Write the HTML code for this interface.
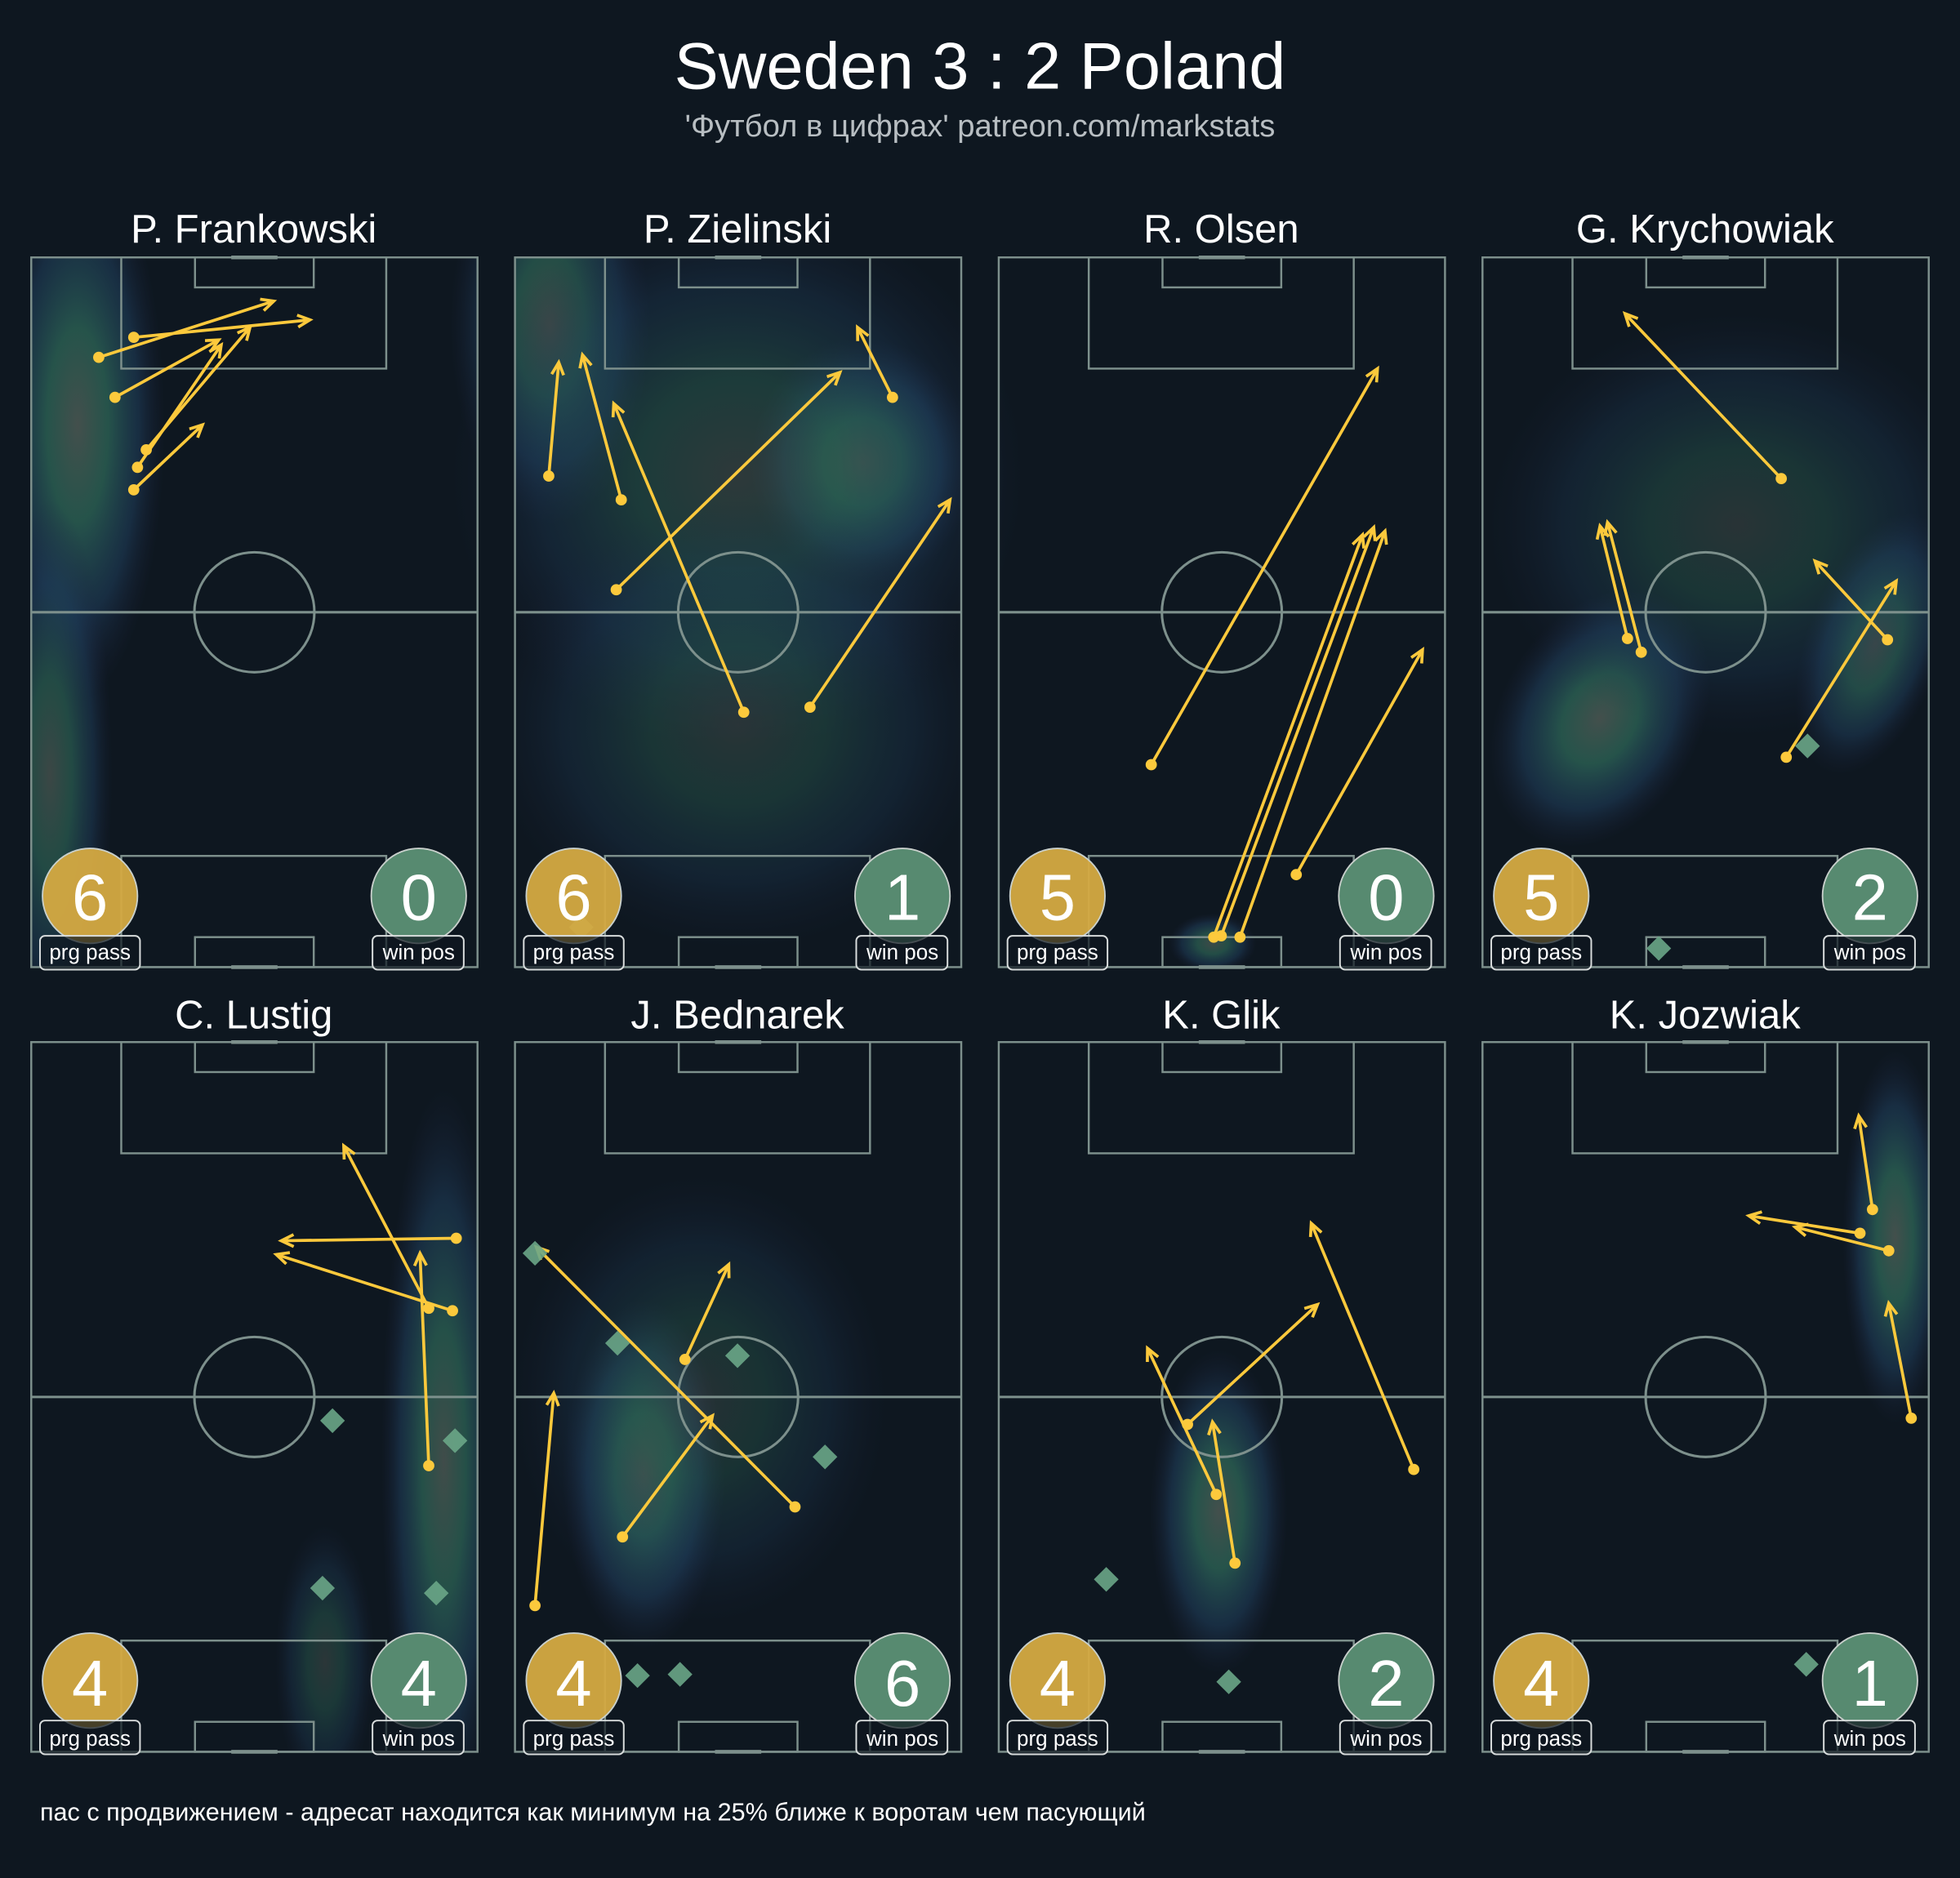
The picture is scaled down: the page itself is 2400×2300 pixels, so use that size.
<!DOCTYPE html>
<html><head><meta charset="utf-8"><style>
html,body{margin:0;padding:0;background:#0e1720;}
svg{display:block}
text{font-family:"Liberation Sans","DejaVu Sans",sans-serif;}
</style></head><body>
<svg id="s" width="2400" height="2300" viewBox="0 0 1568 1503" preserveAspectRatio="none" xmlns="http://www.w3.org/2000/svg">
<defs>
<radialGradient id="hm">
<stop offset="0" stop-color="#46524e" stop-opacity="0.95"/>
<stop offset="0.35" stop-color="#2a5e52" stop-opacity="0.85"/>
<stop offset="0.7" stop-color="#20405e" stop-opacity="0.55"/>
<stop offset="1" stop-color="#1c2340" stop-opacity="0"/>
</radialGradient>
<clipPath id="pc"><rect x="25" y="206" width="357" height="568"/><rect x="412" y="206" width="357" height="568"/><rect x="799" y="206" width="357" height="568"/><rect x="1186" y="206" width="357" height="568"/>
<rect x="25" y="834" width="357" height="568"/><rect x="412" y="834" width="357" height="568"/><rect x="799" y="834" width="357" height="568"/><rect x="1186" y="834" width="357" height="568"/></clipPath>
</defs>
<rect width="1568" height="1503" fill="#0e1720"/>
<g id="heat" clip-path="url(#pc)"></g>
<g id="pitches"></g>
<g id="arrows"></g>
<g id="badges"></g>
<text x="784" y="71" font-size="53" fill="#fff" text-anchor="middle">Sweden 3 : 2 Poland</text>
<text x="784" y="109" font-size="25" fill="#b8bec2" text-anchor="middle">'Футбол в цифрах' patreon.com/markstats</text>
<g font-size="32" fill="#fff" text-anchor="middle">
<text x="203" y="194">P. Frankowski</text>
<text x="590" y="194">P. Zielinski</text>
<text x="977" y="194">R. Olsen</text>
<text x="1364" y="194">G. Krychowiak</text>
<text x="203" y="823">C. Lustig</text>
<text x="590" y="823">J. Bednarek</text>
<text x="977" y="823">K. Glik</text>
<text x="1364" y="823">K. Jozwiak</text>
</g>
<g font-size="52" fill="#fff" text-anchor="middle">
<text x="72" y="736">6</text><text x="335" y="736">0</text>
<text x="459" y="736">6</text><text x="722" y="736">1</text>
<text x="846" y="736">5</text><text x="1109" y="736">0</text>
<text x="1233" y="736">5</text><text x="1496" y="736">2</text>
<text x="72" y="1365">4</text><text x="335" y="1365">4</text>
<text x="459" y="1365">4</text><text x="722" y="1365">6</text>
<text x="846" y="1365">4</text><text x="1109" y="1365">2</text>
<text x="1233" y="1365">4</text><text x="1496" y="1365">1</text>
</g>
<g id="lbl" font-size="17" fill="#fff" text-anchor="middle">
<text x="72" y="768">prg pass</text><text x="335" y="768">win pos</text>
<text x="459" y="768">prg pass</text><text x="722" y="768">win pos</text>
<text x="846" y="768">prg pass</text><text x="1109" y="768">win pos</text>
<text x="1233" y="768">prg pass</text><text x="1496" y="768">win pos</text>
<text x="72" y="1397">prg pass</text><text x="335" y="1397">win pos</text>
<text x="459" y="1397">prg pass</text><text x="722" y="1397">win pos</text>
<text x="846" y="1397">prg pass</text><text x="1109" y="1397">win pos</text>
<text x="1233" y="1397">prg pass</text><text x="1496" y="1397">win pos</text>
</g>
<text x="32" y="1457" font-size="20" fill="#fff">пас с продвижением - адресат находится как минимум на 25% ближе к воротам чем пасующий</text>
</svg>
<script>
const NS="http://www.w3.org/2000/svg";
function el(p,t,a){const e=document.createElementNS(NS,t);for(const k in a)e.setAttribute(k,a[k]);p.appendChild(e);return e;}
const cols=[25,412,799,1186],rows=[206,834],W=357,H=568;
const P=document.getElementById('pitches'),A=document.getElementById('arrows'),B=document.getElementById('badges'),Hm=document.getElementById('heat');
const lc="#7d908c";
rows.forEach(y=>cols.forEach(x=>{
 const g=el(P,'g',{fill:'none',stroke:lc,'stroke-width':1.6});
 el(g,'rect',{x:x,y:y,width:W,height:H});
 el(g,'line',{x1:x,y1:y+H/2,x2:x+W,y2:y+H/2,'stroke-width':2});
 el(g,'circle',{cx:x+W/2,cy:y+H/2,r:48,'stroke-width':2});
 el(g,'rect',{x:x+72,y:y,width:212,height:89});
 el(g,'rect',{x:x+131,y:y,width:95,height:24});
 el(g,'rect',{x:x+72,y:y+H-89,width:212,height:89});
 el(g,'rect',{x:x+131,y:y+H-24,width:95,height:24});
 el(g,'line',{x1:x+160,y1:y,x2:x+197,y2:y,'stroke-width':3});
 el(g,'line',{x1:x+160,y1:y+H,x2:x+197,y2:y+H,'stroke-width':3});
 const by=y+511;
 el(B,'circle',{cx:x+47,cy:by,r:38,fill:'#d5aa42',stroke:'#c9d0cc','stroke-width':1.2,'fill-opacity':0.95});
 el(B,'circle',{cx:x+310,cy:by,r:38,fill:'#578a70',stroke:'#c9d0cc','stroke-width':1.2});
 el(B,'rect',{x:x+7,y:by+32,width:80,height:27,rx:4,fill:'#0e1720','fill-opacity':0.7,stroke:'#d8dcdc','stroke-width':1.3});
 el(B,'rect',{x:x+273,y:by+32,width:73,height:27,rx:4,fill:'#0e1720','fill-opacity':0.7,stroke:'#d8dcdc','stroke-width':1.3});
}));
const blobs=[[62,340,70,220,0,1],[40,620,50,220,0,0.85],
[440,260,80,160,0,0.9],[690,370,90,100,0,1],[590,380,230,220,0,0.6],[590,580,200,180,0,0.5],
[970,755,35,24,0,0.9],
[1280,575,80,110,30,1],[1500,515,55,110,20,0.9],[1390,420,200,170,0,0.5],
[355,1170,50,300,0,0.95],[260,1330,40,110,0,0.55],
[515,1180,65,140,0,1],[560,1120,150,180,0,0.45],
[975,1210,55,130,0,1],
[1516,990,42,150,0,1]];
blobs.forEach(b=>el(Hm,'ellipse',{cx:b[0],cy:b[1],rx:b[2],ry:b[3],fill:'url(#hm)',opacity:b[5],transform:`rotate(${b[4]} ${b[0]} ${b[1]})`}));
const arr=[
[79,286,219,241],[107,270,248,256],[92,318,175,272],[117,360,200,262],[110,374,177,276],[107,392,162,340],
[439,381,447,290],[497,400,466,284],[595,570,491,323],[493,472,672,298],[714,318,686,262],[648,566,760,400],
[921,612,1102,295],[971,750,1090,428],[977,749,1099,422],[992,750,1108,425],[1037,700,1138,520],
[1425,383,1300,251],[1302,511,1280,421],[1313,522,1286,418],[1510,512,1452,449],[1429,606,1517,465],
[365,991,225,993],[362,1049,221,1004],[343,1047,275,917],[343,1173,336,1003],
[428,1285,443,1115],[636,1206,429,998],[548,1088,583,1012],[498,1230,570,1133],
[950,1140,1054,1044],[973,1196,918,1079],[988,1251,970,1138],[1131,1176,1049,979],
[1498,968,1487,893],[1488,987,1399,973],[1511,1001,1436,982],[1529,1135,1511,1043]];
const C="#fcc93c";
arr.forEach(a=>{const[x1,y1,x2,y2]=a;const ang=Math.atan2(y2-y1,x2-x1),L=11,s=0.45;
 el(A,'line',{x1,y1,x2,y2,stroke:C,'stroke-width':2.4});
 const p1=[x2-L*Math.cos(ang-s),y2-L*Math.sin(ang-s)],p2=[x2-L*Math.cos(ang+s),y2-L*Math.sin(ang+s)];
 el(A,'polyline',{points:`${p1} ${x2},${y2} ${p2}`,fill:'none',stroke:C,'stroke-width':2.4});
 el(A,'circle',{cx:x1,cy:y1,r:4.5,fill:C});});
const dia=[[1446,597],[1327,759],[266,1137],[364,1153],[258,1271],[349,1275],[428,1003],[494,1075],[590,1085],[660,1166],[510,1341],[544,1340],[885,1264],[983,1346],[1445,1332],[465,742]];
dia.forEach(d=>el(A,'rect',{x:d[0]-7,y:d[1]-7,width:14,height:14,fill:'#6aa687',opacity:0.9,transform:`rotate(45 ${d[0]} ${d[1]})`}));
</script>
</body></html>
